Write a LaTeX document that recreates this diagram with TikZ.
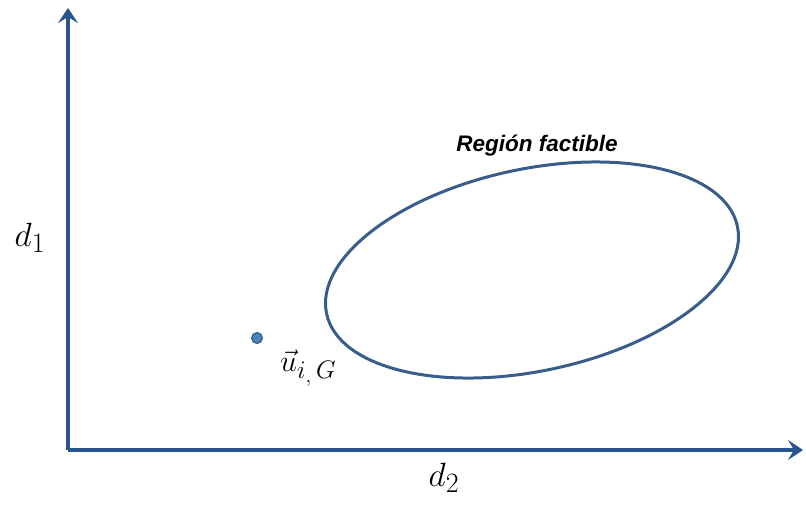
\documentclass[tikz,border=0pt]{standalone}
\usepackage{graphicx}
\usepackage{fontspec}
\usetikzlibrary{arrows.meta}
\newfontfamily\labelfont{Liberation Sans}

\definecolor{axisblue}{RGB}{42,84,140}
\definecolor{regionblue}{RGB}{56,93,138}
\definecolor{dotblue}{RGB}{79,129,189}

\tikzset{
  axisline/.style={draw=axisblue, line width=4pt, -{Stealth[length=15pt,width=20pt,inset=6pt]}},
  regionline/.style={draw=regionblue, line width=3pt},
  mathlabel/.style={inner sep=0pt, font=\fontsize{24.88}{30}\selectfont},
}

\begin{document}
\begin{tikzpicture}[x=1pt, y=-1pt, line join=round]

  %% ════ 坐标轴 ════
  \coordinate (origin) at (68,450);
  \coordinate (ytip) at (68,8);
  \coordinate (xtip) at (803,450);
  \draw[axisline] (origin) -- (ytip);
  \draw[axisline] (origin) -- (xtip);

  \node[mathlabel] (dOne) at (30,238) {\scalebox{1.35}{$d_1$}};
  \node[mathlabel] (dTwo) at (444,478) {\scalebox{1.35}{$d_2$}};

  %% ════ 可行域（椭圆）════
  \draw[regionline, rotate around={12:(532,270)}] (532,270) ellipse (210 and 101);
  \node[inner sep=0pt, font=\labelfont\fontsize{22.5}{26}\selectfont\bfseries\itshape] (region) at (537,146) {Región factible};

  %% ════ 点 u_{i,G} ════
  \node[circle, fill=dotblue, draw=axisblue, line width=1pt, minimum size=11pt, inner sep=0pt] (uPoint) at (257,338) {};
  \node[mathlabel, anchor=west] (uLabel) at (280,368) {\scalebox{1.22}{$\vec{u}_{i_{,}\,G}$}};

  % 钉死画布
  \pgfresetboundingbox
  \path[use as bounding box] (0,0) rectangle (806,504);
\end{tikzpicture}
\end{document}
